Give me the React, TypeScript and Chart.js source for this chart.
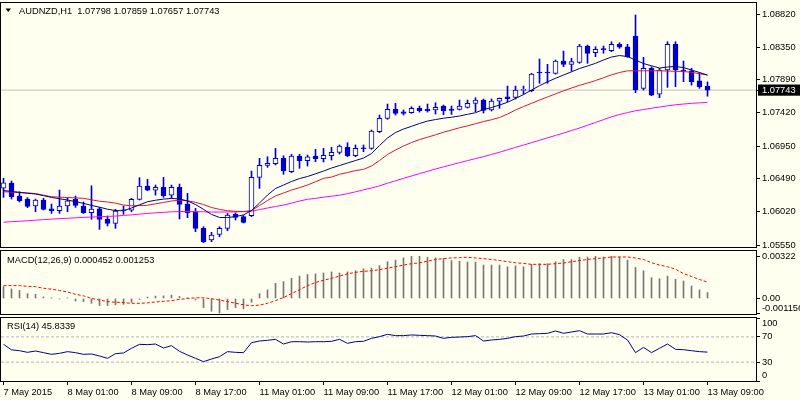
import React, { useEffect, useRef } from "react";
import { Chart, registerables } from "chart.js";

Chart.register(...registerables);

// ---------------- data ----------------
const symbol = "AUDNZD,H1";

const tickLabels = [
  "7 May 2015", "8 May 01:00", "8 May 09:00", "8 May 17:00", "11 May 01:00", "11 May 09:00",
  "11 May 17:00", "12 May 01:00", "12 May 09:00", "12 May 17:00", "13 May 01:00", "13 May 09:00",
];

const open = [
  1.06356, 1.06427, 1.06244, 1.06201, 1.06102, 1.06187, 1.06063, 1.06035, 1.06102, 1.06197,
  1.06102, 1.06007, 1.06063, 1.05918, 1.05857, 1.06035, 1.06045, 1.06197, 1.06385, 1.06328,
  1.06366, 1.06257, 1.06366, 1.06130, 1.06021, 1.05786, 1.05621, 1.05701, 1.05786, 1.05988,
  1.05951, 1.05964, 1.06508, 1.06678, 1.06701, 1.06777, 1.06588, 1.06810, 1.06743, 1.06810,
  1.06771, 1.06814, 1.06862, 1.06933, 1.06814, 1.06913, 1.06918, 1.07154, 1.07343, 1.07470,
  1.07437, 1.07423, 1.07485, 1.07470, 1.07461, 1.07517, 1.07475, 1.07470, 1.07499, 1.07556,
  1.07602, 1.07461, 1.07588, 1.07649, 1.07641, 1.07740, 1.07734, 1.07985, 1.07985, 1.07980,
  1.08155, 1.08108, 1.08136, 1.08367, 1.08272, 1.08316, 1.08301, 1.08391, 1.08357, 1.08509,
  1.07768, 1.08051, 1.07687, 1.08027, 1.08391, 1.08027, 1.08017, 1.07876, 1.07798,
];
const high = [
  1.06494, 1.06456, 1.06304, 1.06222, 1.06201, 1.06211, 1.06130, 1.06328, 1.06220, 1.06244,
  1.06159, 1.06389, 1.06083, 1.05961, 1.06055, 1.06102, 1.06211, 1.06503, 1.06480, 1.06399,
  1.06508, 1.06399, 1.06413, 1.06281, 1.06069, 1.05809, 1.05730, 1.05809, 1.05998, 1.06007,
  1.05968, 1.06597, 1.06777, 1.06800, 1.06918, 1.06814, 1.06834, 1.06834, 1.06824, 1.06904,
  1.06918, 1.06933, 1.06966, 1.06998, 1.06966, 1.06966, 1.07178, 1.07390, 1.07546, 1.07556,
  1.07461, 1.07508, 1.07517, 1.07546, 1.07564, 1.07532, 1.07517, 1.07602, 1.07602, 1.07635,
  1.07617, 1.07617, 1.07631, 1.07801, 1.07801, 1.07801, 1.07980, 1.08183, 1.08108, 1.08169,
  1.08296, 1.08193, 1.08391, 1.08381, 1.08357, 1.08367, 1.08428, 1.08414, 1.08391, 1.08806,
  1.08207, 1.08074, 1.08051, 1.08428, 1.08428, 1.08155, 1.08051, 1.07989, 1.07859,
];
const low = [
  1.06225, 1.06201, 1.06159, 1.06080, 1.06021, 1.06045, 1.05998, 1.05998, 1.06021, 1.06083,
  1.05996, 1.05914, 1.05772, 1.05819, 1.05786, 1.05984, 1.06021, 1.06187, 1.06318, 1.06257,
  1.06225, 1.06211, 1.05918, 1.05937, 1.05738, 1.05582, 1.05597, 1.05668, 1.05752, 1.05904,
  1.05861, 1.05951, 1.06352, 1.06650, 1.06683, 1.06551, 1.06573, 1.06636, 1.06668, 1.06729,
  1.06725, 1.06753, 1.06838, 1.06800, 1.06800, 1.06870, 1.06904, 1.07140, 1.07329, 1.07390,
  1.07390, 1.07414, 1.07432, 1.07432, 1.07404, 1.07394, 1.07399, 1.07461, 1.07489, 1.07437,
  1.07418, 1.07447, 1.07485, 1.07578, 1.07617, 1.07683, 1.07720, 1.07839, 1.07839, 1.07970,
  1.08074, 1.08013, 1.08122, 1.08122, 1.08216, 1.08264, 1.08287, 1.08334, 1.08207, 1.07706,
  1.07744, 1.07663, 1.07635, 1.07782, 1.07791, 1.07862, 1.07813, 1.07768, 1.07657,
];
const close = [
  1.06432, 1.06234, 1.06177, 1.06097, 1.06187, 1.06055, 1.06035, 1.06102, 1.06177, 1.06112,
  1.06007, 1.06059, 1.05914, 1.05857, 1.06031, 1.06045, 1.06197, 1.06385, 1.06328, 1.06366,
  1.06248, 1.06366, 1.06126, 1.06007, 1.05786, 1.05597, 1.05692, 1.05786, 1.05974, 1.05941,
  1.05871, 1.06508, 1.06678, 1.06706, 1.06777, 1.06598, 1.06810, 1.06743, 1.06800, 1.06771,
  1.06820, 1.06862, 1.06951, 1.06814, 1.06918, 1.06918, 1.07162, 1.07343, 1.07470, 1.07414,
  1.07414, 1.07485, 1.07451, 1.07451, 1.07499, 1.07451, 1.07456, 1.07517, 1.07556, 1.07602,
  1.07456, 1.07588, 1.07626, 1.07621, 1.07744, 1.07748, 1.07970, 1.07992, 1.07992, 1.08155,
  1.08108, 1.08145, 1.08367, 1.08264, 1.08320, 1.08322, 1.08391, 1.08349, 1.08216, 1.07744,
  1.08051, 1.07673, 1.08027, 1.08391, 1.08027, 1.08013, 1.07862, 1.07791, 1.07743,
];

const maFast = [
  1.06321, 1.06309, 1.06296, 1.06283, 1.06272, 1.06249, 1.06224, 1.06205, 1.06187, 1.06164,
  1.06140, 1.06110, 1.06086, 1.06057, 1.06038, 1.06035, 1.06074, 1.06119, 1.06163, 1.06184,
  1.06200, 1.06209, 1.06202, 1.06174, 1.06123, 1.06055, 1.05983, 1.05940, 1.05939, 1.05953,
  1.05977, 1.06038, 1.06144, 1.06258, 1.06350, 1.06399, 1.06449, 1.06491, 1.06520, 1.06558,
  1.06597, 1.06640, 1.06675, 1.06711, 1.06746, 1.06781, 1.06845, 1.06958, 1.07065, 1.07142,
  1.07192, 1.07230, 1.07270, 1.07305, 1.07326, 1.07345, 1.07359, 1.07376, 1.07400, 1.07423,
  1.07468, 1.07496, 1.07532, 1.07570, 1.07624, 1.07680, 1.07744, 1.07805, 1.07861, 1.07910,
  1.07956, 1.08002, 1.08048, 1.08084, 1.08122, 1.08169, 1.08211, 1.08232, 1.08218, 1.08169,
  1.08119, 1.08087, 1.08055, 1.08070, 1.08077, 1.08062, 1.08027, 1.07992, 1.07956,
];
const maMid = [
  1.06304, 1.06299, 1.06293, 1.06287, 1.06279, 1.06255, 1.06234, 1.06228, 1.06222, 1.06217,
  1.06211, 1.06190, 1.06170, 1.06160, 1.06143, 1.06116, 1.06105, 1.06108, 1.06113, 1.06133,
  1.06153, 1.06173, 1.06185, 1.06177, 1.06154, 1.06123, 1.06081, 1.06055, 1.06035, 1.06027,
  1.06023, 1.06038, 1.06109, 1.06180, 1.06244, 1.06286, 1.06328, 1.06362, 1.06399, 1.06446,
  1.06494, 1.06512, 1.06551, 1.06576, 1.06604, 1.06621, 1.06668, 1.06746, 1.06831, 1.06895,
  1.06951, 1.07001, 1.07043, 1.07076, 1.07110, 1.07147, 1.07178, 1.07210, 1.07237, 1.07268,
  1.07298, 1.07324, 1.07355, 1.07404, 1.07461, 1.07510, 1.07556, 1.07602, 1.07645, 1.07690,
  1.07733, 1.07772, 1.07810, 1.07843, 1.07878, 1.07918, 1.07959, 1.07992, 1.08016, 1.08016,
  1.08016, 1.08017, 1.08016, 1.08013, 1.08010, 1.08006, 1.07995, 1.07975, 1.07956,
];
const maSlow = [
  1.05873, 1.05880, 1.05887, 1.05894, 1.05902, 1.05909, 1.05916, 1.05924, 1.05929, 1.05935,
  1.05942, 1.05946, 1.05950, 1.05955, 1.05960, 1.05969, 1.05977, 1.05987, 1.05997, 1.06006,
  1.06013, 1.06020, 1.06023, 1.06024, 1.06023, 1.06020, 1.06017, 1.06017, 1.06018, 1.06020,
  1.06023, 1.06028, 1.06052, 1.06074, 1.06095, 1.06116, 1.06142, 1.06173, 1.06197, 1.06211,
  1.06227, 1.06241, 1.06255, 1.06277, 1.06303, 1.06331, 1.06357, 1.06388, 1.06425, 1.06459,
  1.06494, 1.06527, 1.06561, 1.06593, 1.06626, 1.06657, 1.06686, 1.06716, 1.06745, 1.06773,
  1.06801, 1.06832, 1.06863, 1.06898, 1.06931, 1.06965, 1.06999, 1.07033, 1.07067, 1.07101,
  1.07135, 1.07171, 1.07206, 1.07246, 1.07285, 1.07325, 1.07365, 1.07397, 1.07425, 1.07450,
  1.07468, 1.07486, 1.07503, 1.07520, 1.07535, 1.07546, 1.07556, 1.07563, 1.07568,
];

const macdMain = [
  0.00090, 0.00073, 0.00061, 0.00037, 0.00032, 0.00012, 0.00002, -0.00003, 0.00005, -0.00020,
  -0.00024, -0.00037, -0.00054, -0.00054, -0.00049, -0.00045, -0.00030, -0.00008, 0.00010, 0.00018,
  0.00020, 0.00026, 0.00015, 0.00005, -0.00012, -0.00070, -0.00098, -0.00112, -0.00085, -0.00070,
  -0.00080, -0.00029, 0.00037, 0.00066, 0.00115, 0.00129, 0.00154, 0.00171, 0.00183, 0.00188,
  0.00195, 0.00203, 0.00195, 0.00203, 0.00212, 0.00227, 0.00232, 0.00251, 0.00281, 0.00293,
  0.00310, 0.00322, 0.00322, 0.00315, 0.00310, 0.00305, 0.00290, 0.00285, 0.00278, 0.00278,
  0.00256, 0.00256, 0.00256, 0.00242, 0.00249, 0.00242, 0.00261, 0.00266, 0.00266, 0.00281,
  0.00298, 0.00298, 0.00315, 0.00317, 0.00322, 0.00317, 0.00322, 0.00317, 0.00293, 0.00237,
  0.00212, 0.00159, 0.00151, 0.00171, 0.00146, 0.00134, 0.00095, 0.00066, 0.000452,
];
const macdSignal = [
  0.00098, 0.00098, 0.00098, 0.00093, 0.00090, 0.00078, 0.00071, 0.00061, 0.00049, 0.00032,
  0.00020, 0.00000, -0.00012, -0.00024, -0.00029, -0.00032, -0.00037, -0.00037, -0.00034, -0.00027,
  -0.00022, -0.00017, -0.00007, 0.00000, 0.00005, 0.00005, -0.00002, -0.00012, -0.00024, -0.00037,
  -0.00049, -0.00056, -0.00051, -0.00037, -0.00017, 0.00007, 0.00037, 0.00066, 0.00098, 0.00122,
  0.00139, 0.00154, 0.00171, 0.00188, 0.00200, 0.00207, 0.00212, 0.00220, 0.00232, 0.00243,
  0.00255, 0.00266, 0.00273, 0.00285, 0.00298, 0.00305, 0.00310, 0.00312, 0.00315, 0.00310,
  0.00305, 0.00298, 0.00290, 0.00281, 0.00273, 0.00268, 0.00261, 0.00261, 0.00261, 0.00266,
  0.00271, 0.00281, 0.00290, 0.00298, 0.00305, 0.00310, 0.00317, 0.00317, 0.00317, 0.00310,
  0.00298, 0.00273, 0.00256, 0.00242, 0.00224, 0.00190, 0.00168, 0.00145, 0.001253,
];

const rsi = [
  58.2, 49.5, 48.1, 45.5, 47.6, 45.0, 42.3, 43.9, 46.6, 45.0,
  42.3, 42.9, 39.7, 36.0, 43.4, 44.5, 51.9, 58.2, 57.7, 58.7,
  52.4, 56.1, 47.1, 41.3, 36.0, 30.7, 34.9, 38.6, 46.6, 45.5,
  45.0, 60.8, 63.5, 64.6, 66.1, 58.7, 62.4, 62.4, 61.9, 62.4,
  62.4, 63.0, 66.1, 59.8, 62.4, 63.0, 67.7, 70.4, 74.1, 72.0,
  72.0, 73.1, 72.5, 72.0, 71.4, 67.7, 69.3, 69.8, 70.4, 72.0,
  63.5, 65.1, 66.1, 67.7, 70.4, 71.4, 74.6, 75.1, 75.7, 79.4,
  75.7, 77.8, 79.9, 74.6, 74.6, 74.6, 76.7, 73.5, 65.1, 45.0,
  53.4, 45.0, 51.9, 58.7, 50.3, 49.7, 48.1, 46.6, 45.8339,
];

const priceTicks = [1.0555, 1.0602, 1.0649, 1.0695, 1.0742, 1.0789, 1.0835, 1.0882];
const macdTicks = [-0.001156, 0, 0.00322];
const rsiTicks = [0, 30, 70, 100];
const rsiLevels = [30, 70];

// ---------------- layout / style ----------------
const X_MIN = -0.3125;
const X_MAX = 94.0625;
const PRICE_MIN = 1.05522;
const PRICE_MAX = 1.08976;
const MACD_MIN = -0.00119;
const MACD_MAX = 0.00363;
const FONT = '"Liberation Sans", Arial, sans-serif';
const FS = 9.3;
const BG = "#FFFFF0";
const CANDLE = "#0000CD";

const last = close.length - 1;
const lastClose = close[last];
const pts = (arr: number[]) => arr.map((v, i) => ({ x: i, y: v }));
const span = (v: number) => [{ x: X_MIN, y: v }, { x: X_MAX, y: v }];

function xAxis(show: boolean): any {
  return {
    type: "linear",
    min: X_MIN,
    max: X_MAX,
    offset: false,
    bounds: "data",
    display: show,
    grid: { display: true, drawOnChartArea: false, drawTicks: true, tickLength: 4, color: "#000", tickColor: "#000", lineWidth: 1 },
    border: { display: false },
    afterBuildTicks: (s: any) => {
      s.ticks = tickLabels.map((_, k) => ({ value: k * 8 }));
    },
    afterFit: (s: any) => {
      s.height = show ? 19 : 0;
      s.paddingLeft = 0;
      s.paddingRight = 0;
    },
    ticks: {
      autoSkip: false,
      maxRotation: 0,
      minRotation: 0,
      align: "start",
      padding: 2,
      color: "#000",
      font: { family: FONT, size: FS },
      callback: (v: number) => tickLabels[Math.round(v / 8)] ?? "",
    },
  };
}

function yAxis(min: number, max: number, values: number[], fmt: (v: number) => any, extra: any = {}): any {
  return {
    type: "linear",
    position: "right",
    min,
    max,
    bounds: "data",
    grid: { drawOnChartArea: false, drawTicks: true, tickLength: 4, color: "#000", tickColor: "#000", lineWidth: 1 },
    border: { display: false },
    afterBuildTicks: (s: any) => {
      s.ticks = [...values].sort((a, b) => a - b).map((v) => ({ value: v }));
    },
    afterFit: (s: any) => {
      s.width = 44;
      s.paddingTop = 0;
      s.paddingBottom = 0;
    },
    ticks: {
      autoSkip: false,
      padding: 2,
      crossAlign: "near",
      color: "#000",
      font: { family: FONT, size: FS },
      callback: fmt,
      ...extra,
    },
  };
}

function framePlugin(text: string, tx: number, ty: number, triangle: boolean): any {
  return {
    id: "frame" + ty,
    afterDraw(chart: any) {
      const { ctx, chartArea: a } = chart;
      ctx.save();
      ctx.strokeStyle = "#000";
      ctx.lineWidth = 1;
      ctx.strokeRect(0.5, a.top - 0.5, a.right, a.bottom - a.top + 1);
      ctx.fillStyle = "#000";
      ctx.font = `${FS}px ${FONT}`;
      ctx.textAlign = "left";
      ctx.textBaseline = "alphabetic";
      ctx.fillText(text, tx, ty);
      if (triangle) {
        ctx.beginPath();
        ctx.moveTo(5.5, 8.5);
        ctx.lineTo(11, 8.5);
        ctx.lineTo(8.25, 12);
        ctx.closePath();
        ctx.fill();
      }
      ctx.restore();
    },
  };
}

function baseOptions(padding: any): any {
  return {
    responsive: false,
    animation: false,
    events: [],
    layout: { padding },
    plugins: { legend: { display: false }, tooltip: { enabled: false } },
  };
}

const line = (label: string, data: any, color: string, order = 0, extra: any = {}) => ({
  type: "line",
  label,
  data,
  borderColor: color,
  borderWidth: 1,
  pointRadius: 0,
  tension: 0,
  fill: false,
  order,
  ...extra,
});

const isLast = (v: number) => Math.abs(v - lastClose) < 1e-9;

function mainConfig(): any {
  const header = `${symbol}  ${open[last].toFixed(5)} ${high[last].toFixed(5)} ${low[last].toFixed(5)} ${close[last].toFixed(5)}`;
  return {
    type: "line",
    data: {
      datasets: [
        line("MA fast", pts(maFast), "#000080", 0),
        line("MA mid", pts(maMid), "#DC143C", 0),
        line("MA slow", pts(maSlow), "#FF00FF", 0),
        {
          type: "bar",
          label: "body",
          data: close.map((c, i) => ({ x: i, y: [open[i], c] })),
          backgroundColor: close.map((c, i) => (c - open[i] > 0.00008 ? BG : CANDLE)),
          borderColor: CANDLE,
          borderWidth: 1,
          borderSkipped: false,
          grouped: false,
          barPercentage: 1,
          categoryPercentage: 1,
          maxBarThickness: 5,
          minBarLength: 1,
          order: 1,
        },
        {
          type: "bar",
          label: "wick",
          data: close.map((_, i) => ({ x: i, y: [low[i], high[i]] })),
          backgroundColor: CANDLE,
          borderWidth: 0,
          grouped: false,
          barPercentage: 1,
          categoryPercentage: 1,
          maxBarThickness: 1,
          order: 2,
        },
        line("price", span(lastClose), "#C0C0C0", 3),
      ],
    },
    options: {
      ...baseOptions({ left: 1, right: 0, top: 3, bottom: 153 }),
      scales: {
        x: xAxis(false),
        y: yAxis(PRICE_MIN, PRICE_MAX, [...priceTicks, lastClose], (v: number) => Number(v).toFixed(5), {
          color: (c: any) => (isLast(c.tick.value) ? "#FFFFFF" : "#000000"),
          showLabelBackdrop: (c: any) => isLast(c.tick.value),
          backdropColor: "#000000",
          backdropPadding: { top: 0, bottom: 0, left: 4, right: 6 },
        }),
      },
    },
    plugins: [framePlugin(header, 19, 14.3, true)],
  };
}

function macdConfig(): any {
  const title = `MACD(12,26,9) ${macdMain[last].toFixed(6)} ${macdSignal[last].toFixed(6)}`;
  const lowest = Math.min(...macdTicks);
  return {
    type: "line",
    data: {
      datasets: [
        line("Signal", pts(macdSignal), "#FF0000", 0, { borderDash: [3, 2] }),
        {
          type: "bar",
          label: "MACD",
          data: pts(macdMain),
          backgroundColor: "#767676",
          borderWidth: 0,
          grouped: false,
          barPercentage: 1,
          categoryPercentage: 1,
          maxBarThickness: 1,
          order: 1,
        },
      ],
    },
    options: {
      ...baseOptions({ left: 1, right: 0, top: 251, bottom: 86 }),
      scales: {
        x: xAxis(false),
        y: yAxis(MACD_MIN, MACD_MAX, macdTicks, (v: number) =>
          v === 0 ? "0.00" : v === lowest ? [String(v), ""] : String(v)
        ),
      },
    },
    plugins: [framePlugin(title, 7, 262.6, false)],
  };
}

function rsiConfig(): any {
  const title = `RSI(14) ${rsi[last].toFixed(4)}`;
  return {
    type: "line",
    data: {
      datasets: [
        line("RSI", pts(rsi), "#00008B", 0),
        ...rsiLevels.map((lv) => line("level " + lv, span(lv), "#B4B4B4", 1, { borderDash: [3, 2] })),
      ],
    },
    options: {
      ...baseOptions({ left: 1, right: 0, top: 318, bottom: 0 }),
      scales: {
        x: xAxis(true),
        y: yAxis(0, 100, rsiTicks, (v: number) =>
          v === 100 ? ["", "100"] : v === 0 ? ["0", ""] : String(v)
        ),
      },
    },
    plugins: [framePlugin(title, 7, 329.3, false)],
  };
}

export default function App() {
  const r1 = useRef<HTMLCanvasElement>(null);
  const r2 = useRef<HTMLCanvasElement>(null);
  const r3 = useRef<HTMLCanvasElement>(null);

  useEffect(() => {
    const charts = [
      new Chart(r1.current as HTMLCanvasElement, mainConfig()),
      new Chart(r2.current as HTMLCanvasElement, macdConfig()),
      new Chart(r3.current as HTMLCanvasElement, rsiConfig()),
    ];
    return () => charts.forEach((c) => c.destroy());
  }, []);

  const cs: any = { position: "absolute", left: 0, top: 0, width: 800, height: 400 };
  return (
    <div style={{ position: "fixed", left: 0, top: 0, width: 800, height: 400, background: BG, overflow: "hidden" }}>
      <canvas ref={r1} width={800} height={400} style={cs} />
      <canvas ref={r2} width={800} height={400} style={cs} />
      <canvas ref={r3} width={800} height={400} style={cs} />
    </div>
  );
}
